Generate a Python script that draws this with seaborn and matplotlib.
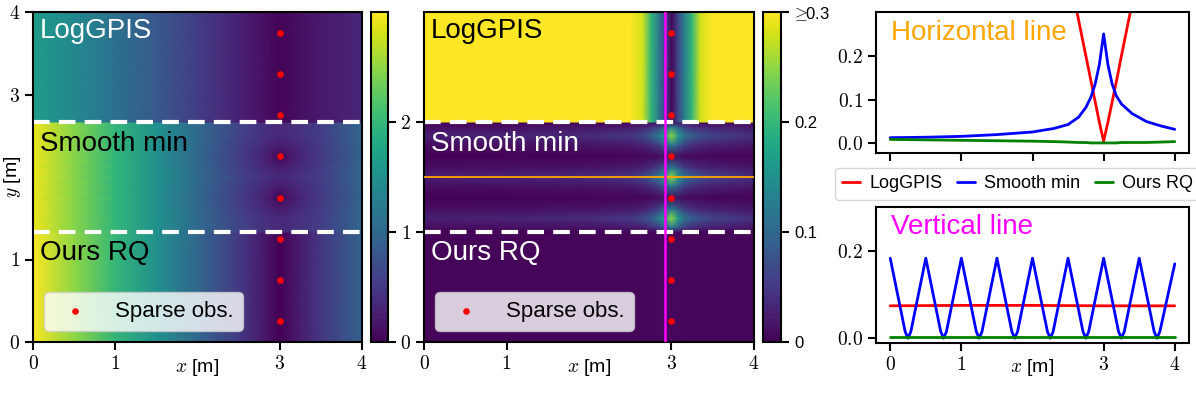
import numpy as np
import pandas as pd
import seaborn as sns
import matplotlib.pyplot as plt
from matplotlib import ticker
from matplotlib.colors import Normalize

# ---------------- data ----------------
METHODS = ["LogGPIS", "Smooth min", "Ours RQ"]
PALETTE = ["#ff0000", "#0000ff", "#008000"]

# sparse observations (all at x = 3)
OBS_X = 3.0
OBS_Y_DIST = [0.25, 0.75, 1.25, 1.75, 2.25, 2.75, 3.25, 3.75]
OBS_Y_ERR = [0.1875, 0.5625, 0.9375, 1.3125, 1.6875, 2.0625, 2.4375, 2.8125]

# distance field (left panel), profiles along x
DIST_X = [0, 0.5, 1, 1.5, 2, 2.5, 2.75, 2.9, 3.0, 3.1, 3.25, 3.5, 4]
LOGGPIS_DIST = [1.65, 1.40, 1.12, 0.83, 0.53, 0.27, 0.16, 0.08, 0.03, 0.06, 0.12, 0.20, 0.32]
OURS_DIST = [2.98, 2.49, 1.99, 1.49, 0.99, 0.50, 0.26, 0.11, 0.01, 0.10, 0.24, 0.48, 0.94]
SMOOTH_DIST_MID = [2.92, 2.45, 1.97, 1.50, 1.02, 0.60, 0.45, 0.38, 0.35, 0.37, 0.43, 0.55, 0.98]
SMOOTH_DIST_NEAR = [2.92, 2.45, 1.97, 1.49, 1.01, 0.56, 0.38, 0.26, 0.20, 0.25, 0.36, 0.52, 0.97]
SMOOTH_DIST_OBS = [2.92, 2.45, 1.97, 1.49, 1.00, 0.54, 0.33, 0.17, 0.03, 0.15, 0.30, 0.50, 0.96]
SMOOTH_DIST_Y = [4 / 3, 1.5, 1.63, 1.75, 1.87, 2.0, 2.13, 2.25, 2.37, 2.5, 8 / 3]
SMOOTH_DIST_ROWS = ["mid", "mid", "near", "obs", "near", "mid", "near", "obs", "near", "mid", "mid"]

# error field (middle panel), profiles along x
ERR_X = [0, 1, 2, 2.5, 2.65, 2.75, 2.85, 2.92, 3.0, 3.08, 3.15, 3.25, 3.35, 3.5, 4]
LOGGPIS_ERR = [2.4, 1.6, 0.8, 0.4, 0.28, 0.2, 0.12, 0.064, 0.005, 0.064, 0.12, 0.2, 0.28, 0.4, 0.8]
SMOOTH_ERR_PEAK = [0.026, 0.03, 0.038, 0.05, 0.065, 0.09, 0.13, 0.17, 0.25, 0.17, 0.12, 0.09, 0.075, 0.062, 0.04]
SMOOTH_ERR_HALF = [0.011, 0.012, 0.016, 0.021, 0.028, 0.04, 0.06, 0.09, 0.13, 0.09, 0.06, 0.042, 0.034, 0.028, 0.018]
SMOOTH_ERR_OBS = [0.002, 0.002, 0.003, 0.004, 0.005, 0.006, 0.008, 0.01, 0.01, 0.01, 0.008, 0.006, 0.005, 0.004, 0.003]
SMOOTH_ERR_Y = [1.0, 1.045, 1.125, 1.205, 1.3125, 1.42, 1.5, 1.58, 1.6875, 1.795, 1.875, 1.955, 2.0]
SMOOTH_ERR_ROWS = ["obs", "half", "peak", "half", "obs", "half", "peak", "half", "obs", "half", "peak", "half", "obs"]
OURS_ERR = [0.004, 0.004, 0.004, 0.004, 0.004, 0.005, 0.006, 0.006, 0.007, 0.006, 0.005, 0.005, 0.004, 0.004, 0.004]

# error along the horizontal line (y = 1.5)
H_X = [0, 0.5, 1, 1.5, 2, 2.3, 2.5, 2.65, 2.75, 2.82, 2.88, 2.94, 3.0, 3.06, 3.12, 3.18, 3.25, 3.4, 3.6, 3.8, 4]
H_LOGGPIS = [2.4, 2.0, 1.6, 1.2, 0.8, 0.56, 0.4, 0.28, 0.2, 0.144, 0.096, 0.048, 0.005, 0.048, 0.095, 0.142,
             0.2, 0.32, 0.48, 0.64, 0.8]
H_SMOOTH = [0.013, 0.014, 0.016, 0.020, 0.026, 0.034, 0.043, 0.060, 0.082, 0.105, 0.135, 0.18, 0.25, 0.18,
            0.135, 0.108, 0.09, 0.068, 0.05, 0.04, 0.032]
H_OURS = [0.009, 0.008, 0.007, 0.006, 0.005, 0.004, 0.003, 0.002, 0.002, 0.001, 0.001, 0.001, 0.001, 0.001,
          0.001, 0.001, 0.002, 0.002, 0.002, 0.003, 0.004]

# error along the vertical line (x = 2.92)
V_X = [0, 0.21, 0.25, 0.29, 0.5, 0.71, 0.75, 0.79, 1.0, 1.21, 1.25, 1.29, 1.5, 1.71, 1.75, 1.79, 2.0,
       2.21, 2.25, 2.29, 2.5, 2.71, 2.75, 2.79, 3.0, 3.21, 3.25, 3.29, 3.5, 3.71, 3.75, 3.79, 4.0]
V_SMOOTH = [0.183, 0.015, 0.0, 0.015, 0.183, 0.015, 0.0, 0.015, 0.183, 0.015, 0.0, 0.015, 0.183, 0.015, 0.0,
            0.015, 0.183, 0.015, 0.0, 0.015, 0.183, 0.015, 0.0, 0.015, 0.183, 0.015, 0.0, 0.015, 0.183, 0.015,
            0.0, 0.015, 0.17]
V_X_FLAT = [0, 1, 2, 3, 4]
V_LOGGPIS = [0.074, 0.075, 0.075, 0.074, 0.074]
V_OURS = [0.002, 0.002, 0.002, 0.002, 0.002]

# ---------------- style ----------------
sns.set_style("ticks")
plt.rcParams.update({
    "font.family": ["Liberation Sans", "DejaVu Sans"],
    "mathtext.fontset": "cm",
    "axes.edgecolor": "black", "axes.labelcolor": "black", "text.color": "black",
    "xtick.color": "black", "ytick.color": "black",
    "axes.linewidth": 1.5,
    "xtick.major.width": 1.5, "ytick.major.width": 1.5,
    "xtick.major.size": 5.5, "ytick.major.size": 5.5,
    "xtick.major.pad": 4, "ytick.major.pad": 4,
    "xtick.labelsize": 14, "ytick.labelsize": 14,
})

W, H = 1196, 393


def box(x0, y0, x1, y1):
    return [x0 / W, 1 - y1 / H, (x1 - x0) / W, (y1 - y0) / H]


int_fmt = ticker.FuncFormatter(lambda v, p: f"${v:g}$")
dec_fmt = ticker.FuncFormatter(lambda v, p: f"${v:.1f}$")

fig = plt.figure(figsize=(W / 100, H / 100), dpi=100)
ax_d = fig.add_axes(box(33, 12, 362, 342))
cax_d = fig.add_axes(box(371, 12, 388, 342))
ax_e = fig.add_axes(box(424, 12, 754, 342))
cax_e = fig.add_axes(box(763, 12, 781, 342))
ax_h = fig.add_axes(box(876, 12, 1189, 153))
ax_v = fig.add_axes(box(876, 207, 1189, 343))

norm_d = Normalize(0, 3)
norm_e = Normalize(0, 0.3)
dashes = dict(color="white", lw=3, ls=(0, (4, 2.2)), zorder=2)

# ---- left: distance field ----
smooth_rows = {"mid": SMOOTH_DIST_MID, "near": SMOOTH_DIST_NEAR, "obs": SMOOTH_DIST_OBS}
mesh_d = ax_d.pcolormesh(DIST_X, [0, 4 / 3], np.array([OURS_DIST, OURS_DIST]),
                         shading="gouraud", cmap="viridis", norm=norm_d)
ax_d.pcolormesh(DIST_X, SMOOTH_DIST_Y, np.array([smooth_rows[r] for r in SMOOTH_DIST_ROWS]),
                shading="gouraud", cmap="viridis", norm=norm_d)
ax_d.pcolormesh(DIST_X, [8 / 3, 4], np.array([LOGGPIS_DIST, LOGGPIS_DIST]),
                shading="gouraud", cmap="viridis", norm=norm_d)
for yy in [4 / 3, 8 / 3]:
    ax_d.axhline(yy, **dashes)
ax_d.scatter([OBS_X] * len(OBS_Y_DIST), OBS_Y_DIST, s=14, color="red", zorder=4, label="Sparse obs.")
ax_d.set_xlim(0, 4)
ax_d.set_ylim(0, 4)
ax_d.set_xticks([0, 1, 3, 4])
ax_d.set_yticks([0, 1, 3, 4])
for t, yy, c in zip(["LogGPIS", "Smooth min", "Ours RQ"], [0.982, 0.638, 0.308], ["white", "black", "black"]):
    ax_d.text(0.02, yy, t, transform=ax_d.transAxes, fontsize=20, color=c, va="top", ha="left")
ax_d.set_ylabel("$y$ [m]", fontsize=14)
ax_d.yaxis.set_label_coords(-0.03, 0.5)

# its labels coincide with the middle panel's y labels, so only the marks are kept
cb_d = fig.colorbar(mesh_d, cax=cax_d, ticks=[0, 1, 2])
cb_d.ax.tick_params(labelright=False)

# ---- middle: error field ----
err_rows = {"peak": SMOOTH_ERR_PEAK, "half": SMOOTH_ERR_HALF, "obs": SMOOTH_ERR_OBS}
mesh_e = ax_e.pcolormesh(ERR_X, [0, 1], np.array([OURS_ERR, OURS_ERR]),
                         shading="gouraud", cmap="viridis", norm=norm_e)
ax_e.pcolormesh(ERR_X, SMOOTH_ERR_Y, np.array([err_rows[r] for r in SMOOTH_ERR_ROWS]),
                shading="gouraud", cmap="viridis", norm=norm_e)
ax_e.pcolormesh(ERR_X, [2, 3], np.array([LOGGPIS_ERR, LOGGPIS_ERR]),
                shading="gouraud", cmap="viridis", norm=norm_e)
for yy in [1, 2]:
    ax_e.axhline(yy, **dashes)
ax_e.axhline(1.5, color="#ffa500", lw=1.3, zorder=3)
ax_e.axvline(2.92, color="#ff00ff", lw=1.8, zorder=3)
ax_e.scatter([OBS_X] * len(OBS_Y_ERR), OBS_Y_ERR, s=14, color="red", zorder=4, label="Sparse obs.")
ax_e.set_xlim(0, 4)
ax_e.set_ylim(0, 3)
ax_e.set_xticks([0, 1, 3, 4])
ax_e.set_yticks([0, 1, 2])
for t, yy, c in zip(["LogGPIS", "Smooth min", "Ours RQ"], [0.982, 0.638, 0.308], ["black", "white", "white"]):
    ax_e.text(0.02, yy, t, transform=ax_e.transAxes, fontsize=20, color=c, va="top", ha="left")

cb_e = fig.colorbar(mesh_e, cax=cax_e, ticks=[0, 0.1, 0.2, 0.3])
cb_e.ax.set_yticklabels(["0", "0.1", "0.2", r"$\!\geq\!\!$0.3"], fontsize=12)

for ax in [ax_d, ax_e]:
    ax.xaxis.set_major_formatter(int_fmt)
    ax.yaxis.set_major_formatter(int_fmt)
    ax.set_xlabel("$x$ [m]", fontsize=14)
    ax.xaxis.set_label_coords(0.5, -0.045)
    ax.legend(loc="lower left", fontsize=16)

for cb in [cb_d, cb_e]:
    cb.outline.set_linewidth(1.5)
    cb.ax.tick_params(width=1.5, length=5.5)

# ---- right: line profiles ----
for vals, m, c in zip([H_LOGGPIS, H_SMOOTH, H_OURS], METHODS, PALETTE):
    sns.lineplot(x=H_X, y=vals, color=c, lw=2, label=m, legend=False, ax=ax_h)
for xs, vals, m, c in zip([V_X_FLAT, V_X, V_X_FLAT], [V_LOGGPIS, V_SMOOTH, V_OURS], METHODS, PALETTE):
    sns.lineplot(x=xs, y=vals, color=c, lw=2, label=m, legend=False, ax=ax_v)

ax_h.set_xlim(-0.2, 4.2)
ax_h.set_ylim(-0.022, 0.3)
ax_h.set_xticks([0, 1, 2, 3, 4])
ax_h.set_yticks([0, 0.1, 0.2])
ax_h.tick_params(labelbottom=False)
ax_h.yaxis.set_major_formatter(dec_fmt)
ax_h.text(0.048, 0.94, "Horizontal line", transform=ax_h.transAxes, fontsize=20, color="#ffa500",
          va="top", ha="left")

ax_v.set_xlim(-0.2, 4.2)
ax_v.set_ylim(-0.011, 0.3)
ax_v.set_xticks([0, 1, 3, 4])
ax_v.set_yticks([0, 0.2])
ax_v.xaxis.set_major_formatter(int_fmt)
ax_v.yaxis.set_major_formatter(dec_fmt)
ax_v.set_xlabel("$x$ [m]", fontsize=14)
ax_v.xaxis.set_label_coords(0.5, -0.105)
ax_v.text(0.048, 0.95, "Vertical line", transform=ax_v.transAxes, fontsize=20, color="#ff00ff",
          va="top", ha="left")

handles, labels = ax_h.get_legend_handles_labels()
fig.legend(handles, labels, loc="center", bbox_to_anchor=(1017.5 / W, 1 - 184 / H), ncol=3,
           fontsize=13, handlelength=1.0, handletextpad=0.5, columnspacing=0.8)

fig.savefig("out.png", dpi=100)
